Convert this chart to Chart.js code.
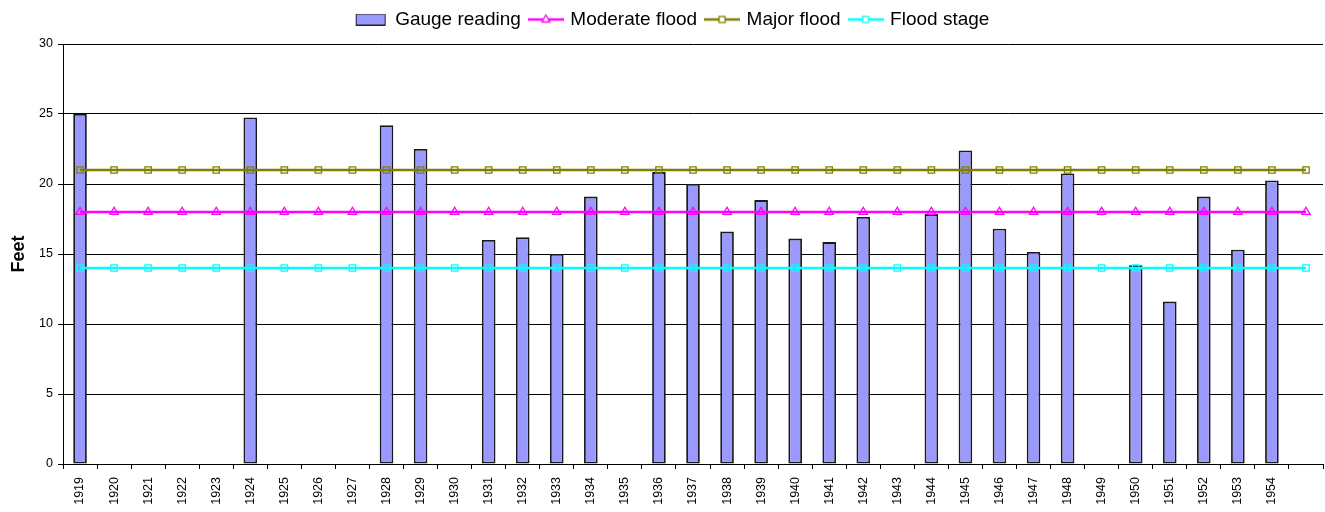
<!DOCTYPE html>
<html><head><meta charset="utf-8">
<script src="https://cdn.jsdelivr.net/npm/chart.js@4/dist/chart.umd.min.js"></script>
<style>html,body{margin:0;padding:0;background:#fff;overflow:hidden}#wrap{width:1325px;height:512px;position:relative}</style>
</head><body><div id="wrap"><canvas id="c" width="1325" height="512"></canvas></div>
<script>
// ---- data ----
const years = ['1919','1920','1921','1922','1923','1924','1925','1926','1927','1928','1929','1930','1931','1932','1933','1934','1935','1936','1937','1938','1939','1940','1941','1942','1943','1944','1945','1946','1947','1948','1949','1950','1951','1952','1953','1954',''];
const gaugeReading = [25.0,null,null,null,null,24.75,null,null,null,24.2,22.5,null,16.0,16.2,15.0,19.1,null,20.85,20.0,16.6,18.85,16.1,15.85,17.65,null,17.85,22.4,16.8,15.15,20.75,null,14.2,11.6,19.1,15.3,20.25,null];
const moderateFlood = [18,18,18,18,18,18,18,18,18,18,18,18,18,18,18,18,18,18,18,18,18,18,18,18,18,18,18,18,18,18,18,18,18,18,18,18,18];
const majorFlood = [21,21,21,21,21,21,21,21,21,21,21,21,21,21,21,21,21,21,21,21,21,21,21,21,21,21,21,21,21,21,21,21,21,21,21,21,21];
const floodStage = [14,14,14,14,14,14,14,14,14,14,14,14,14,14,14,14,14,14,14,14,14,14,14,14,14,14,14,14,14,14,14,14,14,14,14,14,14];
const seriesNames = ['Gauge reading','Moderate flood','Major flood','Flood stage'];
const yTicks = [0,5,10,15,20,25,30];

// ---- styles ----
const FONT = "'Liberation Sans', Arial, Helvetica, sans-serif";
Chart.defaults.font.family = FONT;
Chart.defaults.color = '#000';
const BAR_FILL = '#9999FF', BAR_EDGE = '#1a1a1a';
const C_MOD = '#FF00FF', C_MAJ = '#808000', C_FS = '#00FFFF';

function legendLine(color, marker){
  const c = document.createElement('canvas'); c.width = 36; c.height = 12;
  const g = c.getContext('2d');
  g.strokeStyle = color; g.lineWidth = 2.5;
  g.beginPath(); g.moveTo(0,6); g.lineTo(36,6); g.stroke();
  g.lineWidth = 1.3;
  if (marker === 'tri'){
    g.fillStyle = '#fff';
    g.beginPath(); g.moveTo(18,1.5); g.lineTo(22,8.5); g.lineTo(14,8.5); g.closePath(); g.fill(); g.stroke();
  } else {
    g.fillStyle = '#fff';
    g.fillRect(15,3,6,6); g.strokeRect(15,3,6,6);
  }
  return c;
}
function legendBox(){
  const c = document.createElement('canvas'); c.width = 36; c.height = 12;
  const g = c.getContext('2d');
  g.fillStyle = BAR_FILL; g.fillRect(3.5,0.5,29,11);
  g.strokeStyle = '#222'; g.lineWidth = 1; g.strokeRect(3.5,0.5,29,11);
  return c;
}
const legendImgs = [legendBox(), legendLine(C_MOD,'tri'), legendLine(C_MAJ,'sq'), legendLine(C_FS,'sq')];

const zeroPad = () => ({ left: 0, top: 0, right: 0, bottom: 0 });
const layoutPlugin = {
  id: 'layoutTweak',
  beforeLayout(chart){
    const lg = chart.legend;
    if (lg && !lg._patched){
      const fit = lg.fit;
      lg.fit = function(){ fit.call(this); this.height = 44; };
      lg._patched = true;
    }
    Object.values(chart.scales).forEach(s => { s.getPadding = zeroPad; });
  },
  afterLayout(chart){
    const lg = chart.legend;
    if (lg){ lg.left += 11; lg.right += 11; }
  }
};

new Chart(document.getElementById('c'), {
  data: {
    labels: years,
    datasets: [
      { type:'bar', label: seriesNames[0], data: gaugeReading, backgroundColor: BAR_FILL, borderColor: BAR_EDGE, borderWidth: 1.8, borderSkipped: false, barPercentage: 0.4, categoryPercentage: 1.0, order: 4 },
      { type:'line', label: seriesNames[1], data: moderateFlood, borderColor: C_MOD, backgroundColor: 'rgba(0,0,0,0)', borderWidth: 2.5, pointStyle: 'triangle', pointRadius: 4.8, pointBorderWidth: 1.3, pointBorderColor: C_MOD, pointBackgroundColor: 'rgba(0,0,0,0)', order: 2 },
      { type:'line', label: seriesNames[2], data: majorFlood, borderColor: C_MAJ, backgroundColor: 'rgba(0,0,0,0)', borderWidth: 2.5, pointStyle: 'rect', pointRadius: 4.5, pointBorderWidth: 1.3, pointBorderColor: C_MAJ, pointBackgroundColor: 'rgba(0,0,0,0)', order: 1 },
      { type:'line', label: seriesNames[3], data: floodStage, borderColor: C_FS, backgroundColor: 'rgba(0,0,0,0)', borderWidth: 2.5, pointStyle: 'rect', pointRadius: 4.5, pointBorderWidth: 1.3, pointBorderColor: C_FS, pointBackgroundColor: 'rgba(0,0,0,0)', order: 3 }
    ]
  },
  options: {
    responsive: false,
    animation: false,
    events: [],
    layout: { autoPadding: false, padding: { left: 0, right: 2, top: 0, bottom: 0 } },
    plugins: {
      tooltip: { enabled: false },
      legend: {
        position: 'top',
        align: 'center',
        labels: {
          usePointStyle: true,
          pointStyleWidth: 30,
          padding: 10,
          color: '#000',
          font: { size: 19, family: FONT },
          sort: (a,b) => a.datasetIndex - b.datasetIndex,
          generateLabels(chart){
            const items = Chart.defaults.plugins.legend.labels.generateLabels(chart);
            items.forEach(it => { it.pointStyle = legendImgs[it.datasetIndex]; });
            return items;
          }
        }
      }
    },
    scales: {
      x: {
        type: 'category',
        offset: true,
        grid: { display: true, offset: true, drawOnChartArea: false, drawTicks: true, tickLength: 5, color: '#000', lineWidth: 1 },
        border: { display: true, color: '#000', width: 1 },
        ticks: { autoSkip: false, maxRotation: 90, minRotation: 90, padding: 8, color: '#000', font: { size: 12.5, family: FONT } },
        afterFit(scale){ scale.height = 48; }
      },
      y: {
        min: 0, max: 30,
        afterBuildTicks(scale){ scale.ticks = yTicks.map(v => ({ value: v })); },
        grid: { color: '#000', lineWidth: 1, drawTicks: true, tickLength: 5 },
        border: { display: true, color: '#000', width: 1 },
        ticks: { padding: 5, color: '#000', font: { size: 12.5, family: FONT } },
        title: { display: true, text: 'Feet', color: '#000', font: { size: 18, weight: 'bold', family: FONT }, padding: { top: 8, bottom: 0 } },
        afterFit(scale){ scale.width = 63; }
      }
    }
  },
  plugins: [layoutPlugin]
});
</script>
</body></html>
